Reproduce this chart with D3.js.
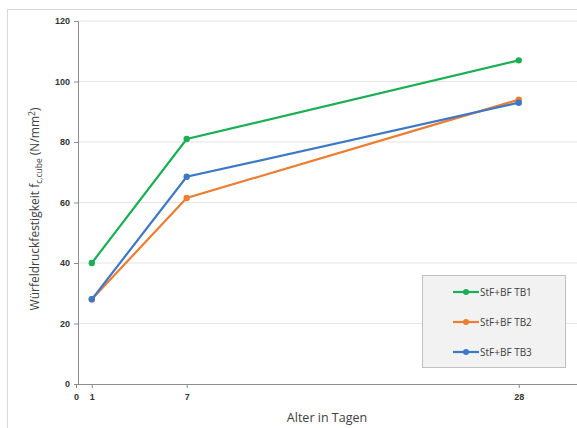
<!DOCTYPE html>
<html><head><meta charset="utf-8">
<script src="https://cdn.jsdelivr.net/npm/d3@7"></script>
<style>body{margin:0;background:#fff}svg{display:block;font-family:"Open Sans",Lato,sans-serif}</style>
</head><body><svg id="c" width="577" height="428"></svg>
<script>
const days = [1, 7, 28];
const seriesNames = ["StF+BF TB1", "StF+BF TB2", "StF+BF TB3"];
const tb1 = [40, 81, 107];
const tb2 = [28, 61.5, 94];
const tb3 = [28, 68.5, 93];
const colors = ["#1aaf54", "#ed7d31", "#3d78c6"];
const yTicks = [0, 20, 40, 60, 80, 100, 120];
const xTicks = [0, 1, 7, 28];

const svg = d3.select("#c");
const x = d3.scaleLinear().domain([0, 32]).range([76, 582]);
const y = d3.scaleLinear().domain([0, 120]).range([384, 21]);

// outer frame
svg.append("rect").attr("x", 7.5).attr("y", 9.5).attr("width", 580).attr("height", 430)
  .attr("fill", "none").attr("stroke", "#d9d9d9");

// gridlines
svg.append("g").selectAll("line").data(yTicks.filter(d => d > 0)).join("line")
  .attr("x1", 78).attr("x2", 577).attr("y1", d => y(d)).attr("y2", d => y(d))
  .attr("stroke", "#e3e3e3").attr("stroke-width", 1);

// y axis
const ya = svg.append("g").attr("transform", "translate(78,0)")
  .call(d3.axisLeft(y).tickValues(yTicks).tickSize(4).tickPadding(4));
ya.select(".domain").attr("stroke", "#8c8c8c");
ya.selectAll(".tick line").attr("stroke", "#8c8c8c");
ya.selectAll("text").attr("font-size", 9).attr("font-weight", "bold").attr("fill", "#333");

// x axis
const xa = svg.append("g").attr("transform", "translate(0,384)")
  .call(d3.axisBottom(x).tickValues(xTicks).tickSize(4).tickPadding(6).tickFormat(d3.format("d")));
xa.select(".domain").attr("stroke", "#8c8c8c").attr("d", "M78,0.5H577");
xa.selectAll(".tick line").attr("stroke", "#8c8c8c");
xa.selectAll("text").attr("font-size", 9).attr("font-weight", "bold").attr("fill", "#333");

// series
const data = [tb1, tb2, tb3];
const line = d3.line().x((d, i) => x(days[i])).y(d => y(d));
data.forEach((s, k) => {
  svg.append("path").attr("d", line(s)).attr("fill", "none")
    .attr("stroke", colors[k]).attr("stroke-width", 2.2);
  svg.append("g").selectAll("circle").data(s).join("circle")
    .attr("cx", (d, i) => x(days[i])).attr("cy", d => y(d)).attr("r", 3.2)
    .attr("fill", colors[k]);
});

// axis titles
svg.append("text").attr("x", 327).attr("y", 422).attr("text-anchor", "middle")
  .attr("font-size", 12.5).attr("fill", "#404040").text("Alter in Tagen");
const yt = svg.append("text").attr("transform", "translate(39,209) rotate(-90)")
  .attr("text-anchor", "middle").attr("font-size", 12).attr("fill", "#404040");
yt.append("tspan").text("Würfeldruckfestigkeit f");
yt.append("tspan").attr("font-size", 8.5).attr("dy", 3).text("c,cube");
yt.append("tspan").attr("dy", -3).text(" (N/mm");
yt.append("tspan").attr("font-size", 8.5).attr("dy", -4).text("2");
yt.append("tspan").attr("dy", 4).text(")");

// legend
const lg = svg.append("g");
lg.append("rect").attr("x", 422.5).attr("y", 275.5).attr("width", 143).attr("height", 92)
  .attr("fill", "#f2f2f2").attr("stroke", "#bfbfbf");
seriesNames.forEach((n, k) => {
  const yy = 292 + k * 30;
  lg.append("line").attr("x1", 453).attr("x2", 479).attr("y1", yy).attr("y2", yy)
    .attr("stroke", colors[k]).attr("stroke-width", 2.2);
  lg.append("circle").attr("cx", 466).attr("cy", yy).attr("r", 3).attr("fill", colors[k]);
  lg.append("text").attr("x", 480).attr("y", yy + 3.5).attr("font-size", 10)
    .attr("fill", "#404040").text(n);
});
</script></body></html>
